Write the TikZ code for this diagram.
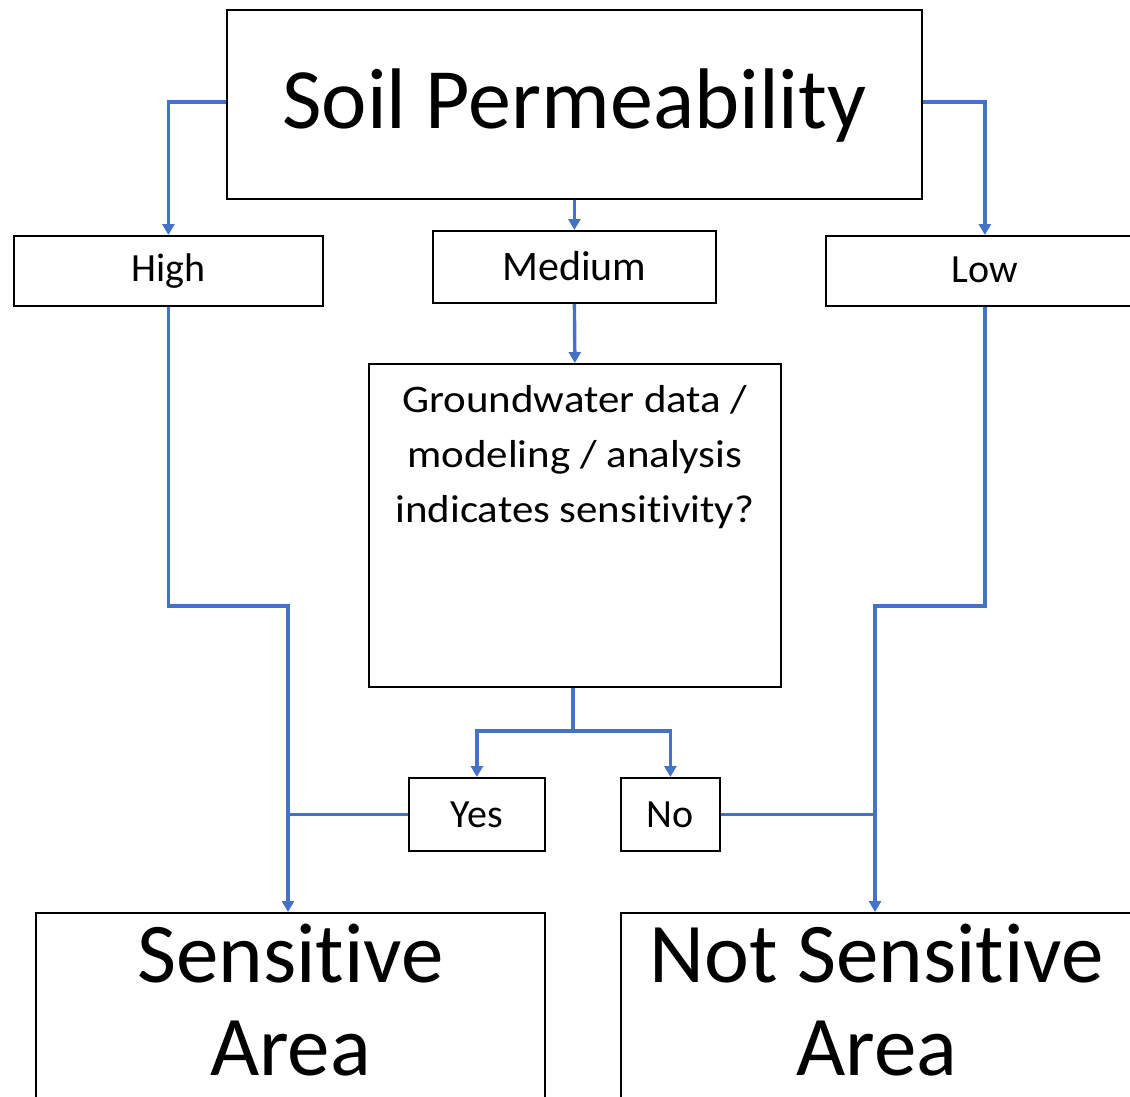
\documentclass[tikz,border=0pt]{standalone}
\usepackage{fontspec}
\setmainfont{Carlito}[Ligatures=NoCommon]
\newfontfamily\gwfont[FakeStretch=1.1,Ligatures=NoCommon]{Carlito}
\usetikzlibrary{arrows.meta}
\definecolor{flowblue}{HTML}{4472C4}
\newcommand\cellbox[4]{\parbox[c][#2][t]{#1}{\centering\rule{0pt}{#3}#4}}
\tikzset{
  boxnode/.style={draw=black, line width=1.8pt, inner sep=0pt, anchor=north west},
  conn/.style={draw=flowblue, line width=3.4pt},
  arr/.style={conn, -{Triangle[length=11pt,width=12pt]}},
}
\begin{document}
\begin{tikzpicture}[x=1pt,y=-1pt]
\useasboundingbox (0,0) rectangle (1130,1097);
\clip (0,0) rectangle (1130,1097);
% boxes
\node[boxnode] (soil) at (226,9) {\fontsize{86}{93}\selectfont\cellbox{695pt}{189pt}{119pt}{Soil Permeability}};
\node[boxnode] (high) at (13,235) {\fontsize{40}{48}\selectfont\cellbox{309pt}{70pt}{46pt}{High}};
\node[boxnode] (medium) at (432,230) {\fontsize{42}{50}\selectfont\cellbox{283pt}{72pt}{50pt}{Medium}};
\node[boxnode] (low) at (825,235) {\fontsize{40}{48}\selectfont\cellbox{318pt}{70pt}{47pt}{Low}};
\node[boxnode] (gw) at (368,363) {\gwfont\fontsize{39}{55}\selectfont\cellbox{412pt}{323pt}{49pt}{Groundwater data /\\modeling / analysis\\indicates sensitivity?}};
\node[boxnode] (yes) at (408,777) {\fontsize{40}{48}\selectfont\cellbox{136pt}{73pt}{50pt}{Yes}};
\node[boxnode] (no) at (620,777) {\fontsize{40}{48}\selectfont\cellbox{99pt}{73pt}{50pt}{No}};
\node[boxnode] (sens) at (35,912) {\fontsize{85}{93}\selectfont\cellbox{509pt}{220pt}{70pt}{Sensitive\\Area}};
\node[boxnode] (notsens) at (620,912) {\fontsize{85}{93}\selectfont\cellbox{512pt}{220pt}{70pt}{Not Sensitive\\Area}};
% bend points
\coordinate (hbend) at (288,606);
\coordinate (lbend) at (875,606);
\coordinate (split) at (573,731);
% connectors
\draw[arr] ([yshift=2.5pt]soil.west) -| (high.north);
\draw[arr] ([yshift=2.5pt]soil.east) -| (low.north);
\draw[arr] (soil.south) -- (medium.north);
\draw[arr] (medium.south) -- (gw.north);
\draw[arr] (high.south) |- (hbend) -- (hbend |- sens.north);
\draw[arr] (low.south) |- (lbend) -- (lbend |- notsens.north);
\draw[conn] (split |- gw.south) -- (split);
\draw[arr] (split) -| (yes.north);
\draw[arr] (split) -| (no.north);
\draw[conn] (yes.west) -- (hbend |- yes.west);
\draw[conn] (no.east) -- (lbend |- no.east);
\end{tikzpicture}
\end{document}
